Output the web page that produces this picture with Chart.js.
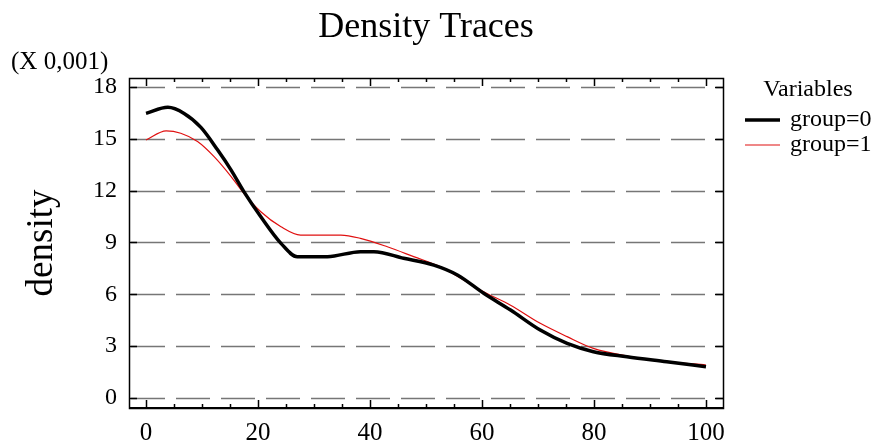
<!DOCTYPE html>
<html>
<head>
<meta charset="utf-8">
<script src="https://cdn.jsdelivr.net/npm/chart.js@4.4.1/dist/chart.umd.min.js"></script>
<style>
  html, body { margin: 0; padding: 0; background: #ffffff; }
  #wrap { width: 881px; height: 446px; position: relative; }
</style>
</head>
<body>
<div id="wrap"><canvas id="c" width="881" height="446"></canvas></div>
<script>
// Density traces of two groups (density in thousandths)
const xGroup0 = [0, 3.9, 6.8, 9.8, 12.8, 15.2, 17.5, 20.5, 24.1, 27.0, 32.4, 38.3, 40.7, 46.0, 51.4, 55.6, 60.3, 65.1, 70.4, 75.2, 79.9, 85.9, 93.0, 100];
const densityGroup0 = [16.47, 16.82, 16.47, 15.66, 14.35, 13.19, 11.93, 10.49, 8.95, 8.18, 8.18, 8.47, 8.47, 8.09, 7.69, 7.12, 6.06, 5.09, 3.93, 3.16, 2.68, 2.39, 2.10, 1.81];

const xGroup1 = [0, 3.6, 6.2, 9.2, 12.2, 15.2, 17.5, 20.5, 24.1, 27.6, 34.8, 38.3, 43.1, 47.8, 52.6, 60.3, 65.1, 70.4, 75.2, 79.9, 85.9, 93.0, 100];
const densityGroup1 = [14.93, 15.46, 15.32, 14.84, 13.95, 12.81, 11.83, 10.78, 9.91, 9.43, 9.43, 9.24, 8.75, 8.18, 7.59, 6.15, 5.37, 4.32, 3.55, 2.87, 2.43, 2.10, 1.91];

const seriesLabels = ['group=0', 'group=1'];
const xTickValues = [0, 20, 40, 60, 80, 100];
const yTickValues = [0, 3, 6, 9, 12, 15, 18];

const SERIF = '"Liberation Serif", "Times New Roman", serif';

function toPoints(xs, ys) {
  return xs.map((x, i) => ({ x: x, y: ys[i] }));
}

// Title, axis label, multiplier note, legend, inward tick marks and frame
const decorations = {
  id: 'decorations',
  beforeDatasetsDraw(chart) {
    const { ctx, chartArea: a, scales } = chart;
    ctx.save();
    // dashed horizontal grid
    ctx.strokeStyle = '#767676';
    ctx.lineWidth = 1.5;
    ctx.setLineDash([34, 11]);
    yTickValues.forEach(v => {
      const y = Math.round(scales.y.getPixelForValue(v)) + 0.5;
      ctx.beginPath();
      ctx.moveTo(a.left + 2, y);
      ctx.lineTo(a.right, y);
      ctx.stroke();
    });
    ctx.restore();
  },
  afterDraw(chart) {
    const { ctx, chartArea: a, scales } = chart;
    ctx.save();
    ctx.fillStyle = '#000';
    ctx.strokeStyle = '#000';

    // frame
    ctx.lineWidth = 1.5;
    ctx.strokeRect(a.left + 0.5, a.top + 0.5, a.right - a.left, a.bottom - a.top);
    ctx.lineWidth = 2;
    ctx.beginPath();
    ctx.moveTo(a.left, a.bottom);
    ctx.lineTo(a.right, a.bottom);
    ctx.stroke();

    // inward tick marks on x (bottom and top)
    ctx.lineWidth = 1.5;
    for (let v = 0; v <= 100; v += 5) {
      const x = Math.round(scales.x.getPixelForValue(v)) + 0.5;
      const len = (v % 20 === 0) ? 8 : 4;
      ctx.beginPath();
      ctx.moveTo(x, a.bottom);
      ctx.lineTo(x, a.bottom - len);
      ctx.moveTo(x, a.top);
      ctx.lineTo(x, a.top + len);
      ctx.stroke();
    }
    // inward tick marks on y (left and right)
    yTickValues.forEach(v => {
      const y = Math.round(scales.y.getPixelForValue(v)) + 0.5;
      ctx.beginPath();
      ctx.moveTo(a.left, y);
      ctx.lineTo(a.left + 8, y);
      ctx.moveTo(a.right, y);
      ctx.lineTo(a.right - 8, y);
      ctx.stroke();
    });

    // title
    ctx.font = '36px ' + SERIF;
    ctx.textAlign = 'center';
    ctx.textBaseline = 'alphabetic';
    ctx.fillText('Density Traces', (a.left + a.right) / 2, 37);

    // multiplier note
    ctx.font = '25px ' + SERIF;
    ctx.textAlign = 'left';
    ctx.textBaseline = 'middle';
    ctx.fillText('(X 0,001)', 11, 62);

    // y axis title
    ctx.save();
    ctx.translate(52, (a.top + a.bottom) / 2);
    ctx.rotate(-Math.PI / 2);
    ctx.font = '37px ' + SERIF;
    ctx.textAlign = 'center';
    ctx.textBaseline = 'alphabetic';
    ctx.fillText('density', 0, 0);
    ctx.restore();

    // legend
    ctx.font = '24px ' + SERIF;
    ctx.textBaseline = 'middle';
    ctx.textAlign = 'center';
    ctx.fillText('Variables', 808, 90);
    ctx.textAlign = 'left';
    chart.data.datasets.forEach((ds, i) => {
      const y = 120 + i * 25;
      ctx.strokeStyle = ds.borderColor;
      ctx.lineWidth = ds.borderWidth;
      ctx.beginPath();
      ctx.moveTo(745, y);
      ctx.lineTo(780, y);
      ctx.stroke();
      ctx.fillStyle = '#000';
      ctx.fillText(ds.label, 790, y);
    });
    ctx.restore();
  }
};

new Chart(document.getElementById('c'), {
  type: 'line',
  data: {
    datasets: [
      {
        label: seriesLabels[0],
        data: toPoints(xGroup0, densityGroup0),
        borderColor: '#000000',
        borderWidth: 3.5,
        pointRadius: 0,
        cubicInterpolationMode: 'monotone',
        fill: false
      },
      {
        label: seriesLabels[1],
        data: toPoints(xGroup1, densityGroup1),
        borderColor: '#e01010',
        borderWidth: 1.2,
        pointRadius: 0,
        cubicInterpolationMode: 'monotone',
        fill: false
      }
    ]
  },
  options: {
    responsive: false,
    animation: false,
    events: [],
    layout: { padding: { left: 0, top: 78, right: 158, bottom: 0 } },
    plugins: {
      legend: { display: false },
      title: { display: false },
      tooltip: { enabled: false }
    },
    scales: {
      x: {
        type: 'linear',
        min: -3.04,
        max: 103.04,
        afterBuildTicks: s => { s.ticks = xTickValues.map(v => ({ value: v })); },
        afterFit: s => { s.height = 38; },
        grid: { display: false, drawTicks: false },
        border: { display: false },
        ticks: {
          padding: 10,
          color: '#000',
          font: { family: SERIF, size: 25 },
          maxRotation: 0,
          autoSkip: false
        }
      },
      y: {
        type: 'linear',
        min: -0.58,
        max: 18.52,
        afterBuildTicks: s => { s.ticks = yTickValues.map(v => ({ value: v })); },
        afterFit: s => { s.width = 129; },
        grid: { display: false, drawTicks: false },
        border: { display: false },
        ticks: {
          padding: 12,
          color: '#000',
          font: { family: SERIF, size: 24 },
          autoSkip: false
        }
      }
    }
  },
  plugins: [decorations]
});
</script>
</body>
</html>
